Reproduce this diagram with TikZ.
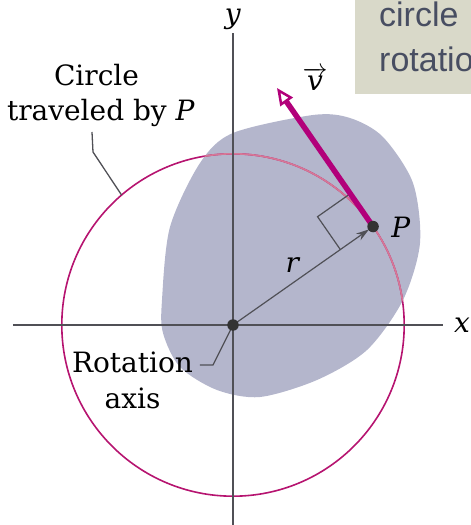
\documentclass[tikz,border=0pt]{standalone}
\usepackage{fontspec}
\setmainfont{DejaVu Serif}
\setsansfont{Liberation Sans}
\usepackage{tikz}
\usetikzlibrary{arrows.meta,calc}

\definecolor{bodyblue}{RGB}{180,182,204}
\definecolor{vmag}{RGB}{178,0,122}
\definecolor{circmag}{RGB}{182,20,112}
\definecolor{circpink}{RGB}{214,120,150}
\definecolor{axisgray}{RGB}{80,80,86}
\definecolor{notebg}{RGB}{217,217,201}
\definecolor{notetext}{RGB}{72,78,98}

\begin{document}
\begin{tikzpicture}[x=1pt,y=1pt,
  lbl/.style={font=\fontsize{28}{35}\selectfont,inner sep=0pt},
  dot/.style={circle,fill=black!80,inner sep=0pt,minimum size=11.5pt}]
  \useasboundingbox (-233,-200) rectangle (238,325);
  % note box, runs off the edge
  \fill[notebg] (122,231) rectangle (250,335);
  \node[lbl,font=\sffamily\fontsize{34}{40}\selectfont,text=notetext,anchor=base west] (note1) at (146,298) {circle};
  \node[lbl,font=\sffamily\fontsize{34}{40}\selectfont,text=notetext,anchor=base west] (note2) at (146,253) {rotatio};

  \def\blob{plot[smooth cycle] coordinates {(80,210) (117,207) (150,188) (180,142) (187,82)
    (170,25) (134,-25) (84,-55) (27,-72) (-16,-65) (-53,-42) (-70,-8) (-71,25) (-63,98)
    (-33,162) (0,192)}}
  \fill[bodyblue] \blob;

  \coordinate (O) at (0,0);
  \coordinate (P) at (35.1:171.2);
  \coordinate (vtip) at (44,237);
  \coordinate (onc) at (130.6:171.2);

  % circle of P, paler where it crosses the body
  \draw[circmag,line width=1.6pt] (O) circle (171.2);
  \begin{scope}
    \clip \blob;
    \draw[circpink,line width=1.6pt] (O) circle (171.2);
  \end{scope}

  % axes
  \draw[axisgray,line width=1.8pt] (-220,0) -- (210,0);
  \draw[axisgray,line width=1.8pt] (0,-200) -- (0,292);
  \node[lbl] (xlab) at (229,0) {\textit{x}};
  \node[lbl] (ylab) at (0,306) {\textit{y}};

  % leaders
  \draw[axisgray,line width=1.3pt] (-141,193) -- (-140,173) -- (onc);
  \draw[axisgray,line width=1.3pt] (-33,-40) -- (-20,-40) -- (O);

  % r and the right angle
  \draw[axisgray,line width=1.2pt,shorten >=5pt,-{Stealth[length=13pt,width=8pt]}] (O) -- (P);
  \coordinate (ra) at ($(P)!40pt!(vtip)$);
  \coordinate (rb) at ($(P)!40pt!(O)$);
  \draw[axisgray,line width=1.2pt] (ra) -- ($(ra)+(rb)-(P)$) -- (rb);

  % velocity
  \draw[vmag,line width=5.5pt,-{Triangle[open,length=17pt,width=15pt,line width=2.5pt]}] (P) -- (vtip);

  \node[dot] (Odot) at (O) {};
  \node[dot] (Pdot) at (P) {};

  \node[lbl] (rlab) at (60,60) {\textit{r}};
  \node[lbl] (Plab) at (168,98) {\textit{P}};
  \node[lbl] (vlab) at (82,246) {$\overrightarrow{\textit{v}}$};
  \node[lbl,anchor=base] (circ1) at (-136.5,239) {Circle};
  \node[lbl,anchor=base] (circ2) at (-132,204) {traveled by \textit{P}};
  \node[lbl,anchor=base] (rot1) at (-100.5,-47) {Rotation};
  \node[lbl,anchor=base] (rot2) at (-100.5,-83) {axis};
\end{tikzpicture}
\end{document}
